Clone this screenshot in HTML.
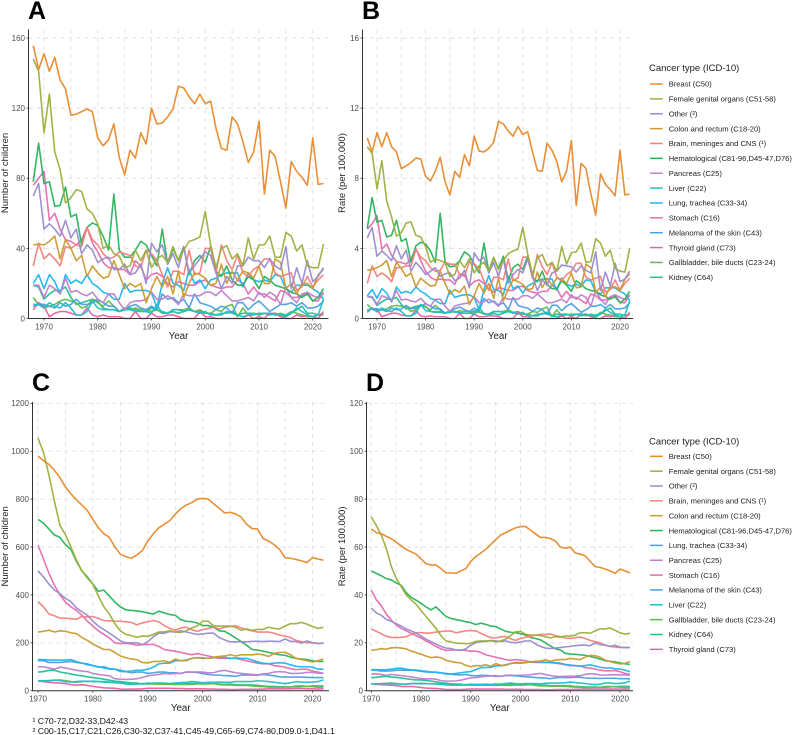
<!DOCTYPE html>
<html lang="en">
<head>
<meta charset="utf-8">
<title>Cancer trends in children</title>
<style>
html,body{margin:0;padding:0;background:#fff;width:793px;height:735px;overflow:hidden}
svg{display:block;font-family:"Liberation Sans",Arial,sans-serif}
</style>
</head>
<body>
<svg id="figure" xmlns="http://www.w3.org/2000/svg" width="793" height="735" viewBox="0 0 793 735"></svg>
<script>
const yearsAB = [1968,1969,1970,1971,1972,1973,1974,1975,1976,1977,1978,1979,1980,1981,1982,1983,1984,1985,1986,1987,1988,1989,1990,1991,1992,1993,1994,1995,1996,1997,1998,1999,2000,2001,2002,2003,2004,2005,2006,2007,2008,2009,2010,2011,2012,2013,2014,2015,2016,2017,2018,2019,2020,2021,2022];
const yearsCD = yearsAB.slice(2);
const gridYears = [1970,1975,1980,1985,1990,1995,2000,2005,2010,2015,2020];
const labelYears = [1970,1980,1990,2000,2010,2020];
const ticksA = [0,40,80,120,160];
const ticksB = [0,4,8,12,16];
const ticksC = [0,200,400,600,800,1000,1200];
const ticksD = [0,20,40,60,80,100,120];

const names = {
 breast:"Breast (C50)", female:"Female genital organs (C51-58)", other:"Other (²)", colon:"Colon and rectum (C18-20)",
 brain:"Brain, meninges and CNS (¹)", hemat:"Hematological (C81-96,D45-47,D76)", pancreas:"Pancreas (C25)", liver:"Liver (C22)",
 lung:"Lung, trachea (C33-34)", stomach:"Stomach (C16)", melanoma:"Melanoma of the skin (C43)", thyroid:"Thyroid gland (C73)",
 gallbladder:"Gallbladder, bile ducts (C23-24)", kidney:"Kidney (C64)"
};
const colors = {
 breast:"#E8892A", female:"#9CAF3B", other:"#9A8BCF", colon:"#C99A2E", brain:"#F57F7A", hemat:"#27B35A", pancreas:"#BE7FCB",
 liver:"#1FC0C9", lung:"#1FB4EE", stomach:"#E56BB0", melanoma:"#4A9FE0", thyroid:"#EC5EA5", gallbladder:"#5DBE4C", kidney:"#1FBF94"
};
const orderAB = ["breast","female","other","colon","brain","hemat","pancreas","liver","lung","stomach","melanoma","thyroid","gallbladder","kidney"];
const orderCD = ["breast","female","other","brain","colon","hemat","lung","pancreas","stomach","melanoma","liver","gallbladder","kidney","thyroid"];

/* Panel A: number of children, 1968-2022 */
const aBreast = [155.6,142,151,141,149,136,131,116,116.5,118, 119.5,118,103,98.5,102,111,92,82,96,91.5, 106,99.5,120,111,111.5,115,119.5,132.5,131.5,126.5, 122.5,128,122.5,124,108.5,97,96,115,111,101, 89,95,112.5,71,96,92.5,78,63,89.5,84, 80.5,76,103,76.5,77];
const aFemale = [148,141,106,128,95,85,66,69,73.5,72.5, 62.5,60,54,40,42,37,35.5,29,30,39, 33,39,29,34,36,32,41,33,39,44, 45,46.5,61,42,29,40,41.5,34,37,30, 46,34,42,42,47,35,35,49,47,38.5, 42,30,29,29,42.5];
const aOther = [70,77,51,54,51,47,56,46,51,37, 42,39,32,34,35,28,28,31,25,26, 31,20,43,38,42,31,37,29,41,26, 30,34,38,36,26,17,24,20,30,30, 35,33,33,29,34,30,28,41,17,29, 20,33,21,24,29];
const aColon = [42,42.5,42,44,47,34,45,40,33,36, 24,30,26,23,24,33,25,17,20,18, 20,9,17,24,18,24,14,27,12,20, 26,25,23,19,20,31,20,27,22,27, 26,23,30,20,20,34,32,17,20,14, 20,20,17,25,28];
const aBrain = [30,43,34,37,34,30,41,40,42,41, 52,45,42,37,34,35,38,37,36,30, 29,39,37,33,25,18,27,27,25,39, 25,26,40,40,26,42,33,28,36,26, 24,28,30,34,34,26,24,25,26,16, 18,24,18,22,25];
const aHemat = [78,100,77,78,64,64.5,75,58,59.5,42, 52,54.5,53,47,39,71,39,35,35,39, 44,42,36,30,51,31,40,33,41,25, 33,36,32,41,27,24,30,22,19,19, 24,22,17,24,22,19,18,17,15,14, 12,14,10,12,17];
const aPancreas = [19,19,12,19,17,14,23,15,16,14, 13,15,11,9,14,14,9,5,9,10, 10,11,15,11,11,13,11,8,14,13, 13,13,15,15,13,16,13,10,10,11, 12,10,15,12,15,13,8,18,12,9, 14,15,13,12,14];
const aLiver = [8,8,6,9,7,6,9,6,2,2, 4,10,6,5,5,5,4,5,5,4, 4,4,3,8,3,3,5,5,4,5, 4,3,4,2,2,3,3,4,2,1, 2,2,3,3,3,2,2,2,3,6, 4,2,1,2,11];
const aLung = [20,25,17,25,21,14,25,20,22,20, 25,20,18,15,14,11,11,20,15,16, 16,16,15,6,20,29,20,19,16,28, 20,22,17,22,23,25,26,26,26,18, 26,22,21,22,21,25,24,17,15,19, 19,19,17,15,11];
const aStomach = [76,80,84,56,60,51,45,44,42,45, 52,43,38,32,29,29,28,28,25,33, 30,22,25,26,24,20,18,21,20,19, 19,21,22,19,18,17,18,18,22,20, 14,18,14,14,12,10,16,15,12,12, 13,15,10,10,15];
const aMelanoma = [7,8,8,7,6,9,7,8,11,8, 8,9,11,9,7,7,4,5,7,8, 6,5,7,5,14,11,12,9,11,6, 14,9,8,7,5,7,6,3,9,9, 5,8,10,7,4,6,8,8,9,7, 9,6,6,7,10];
const aThyroid = [5,9,7,1,3,4,4,3,2,2, 6,2,1,2,1,1,1,0,0,4, 0,0,3,1,1,2,2,1,0,0, 0,4,1,1,0,0,0,0,0,0, 2,0,1,0,3,3,1,0,0,2, 1,2,1,0,4];
const aGallbladder = [12,8,6,7,8,10,11,10,9,6, 7,11,9,7,10,7,4,6,5,6, 5,5,4,5,3,3,5,5,5,6, 4,5,3,3,5,4,7,8,1,6, 2,3,2,3,3,2,3,2,4,3, 2,1,1,2,2];
const aKidney = [19,18,11,14,16,16,18,12,8,9, 10,11,10,6,5,5,4,5,6,5, 4,4,6,5,4,3,4,3,4,5, 4,4,3,3,2,2,4,3,2,3, 3,3,2,3,2,3,2,1,3,5, 7,3,3,2,3];

/* Panel B: rate per 100,000, 1968-2022 */
const bBreast = [10.3,9.5,10.6,9.8,10.6,9.8,9.5,8.55,8.7,8.9, 9.15,9.1,8.1,7.85,8.4,9.2,7.8,7.05,8.4,8.05, 9.35,8.7,10.4,9.55,9.5,9.7,10.05,11.25,11.1,10.7, 10.4,10.95,10.5,10.65,9.5,8.45,8.4,10,9.6,8.95, 7.8,8.4,10.15,6.45,8.85,8.55,7.1,5.9,8.25,7.65, 7.35,7,9.6,7.05,7.1];
const bFemale = [9.8,9.4,7.4,9,6.7,5.8,4.7,4.9,5.45,5.5, 4.75,4.65,4.1,3.2,3.4,3.3,3.2,2.4,2.5,3.3, 2.9,3.4,2.6,3,3.2,2.7,3.5,2.8,3.3,3.7, 3.85,3.95,5.2,3.7,2.5,3.45,3.65,3,3.2,2.7, 4.1,3.1,3.75,3.8,4.3,3.2,3.25,4.55,4.3,3.55, 3.9,2.85,2.7,2.65,4];
const bOther = [4.6,5.2,3.55,3.85,3.6,3.3,4.15,3.4,3.9,2.7, 3.2,2.9,2.5,2.7,2.9,2.4,2.55,2.6,2.15,2.3, 2.75,1.75,3.75,3.3,3.5,2.6,3.2,2.4,3.4,2, 2.5,2.8,2.6,3.4,2.4,1.6,2.2,1.9,2.6,2.7, 3.05,3,2.95,2.65,3,2.75,2.6,3.8,1.6,2.65, 1.85,3.15,2.1,2.25,2.7];
const bColon = [2.75,2.8,2.9,3.05,3.3,2.4,3.2,2.85,2.4,2.6, 1.8,2.3,2.05,1.85,1.9,2.7,2,1.4,1.65,1.5, 1.85,0.8,1.3,2,1.45,2,1.15,2.3,1,1.7, 2.2,2.1,1.95,1.65,1.7,2.65,1.75,2.3,1.9,2.3, 2.25,2,2.6,1.75,1.8,3.1,2.9,1.5,1.8,1.25, 1.8,1.8,1.6,2.25,2.55];
const bBrain = [2,3,2.4,2.6,2.4,2.1,2.9,2.9,3,3, 3.95,3.5,3.3,2.9,2.7,2.75,3.2,3.1,3.1,2.5, 2.4,3.25,3.1,2.85,2.15,1.6,2.35,2.35,2.2,3.4, 2.2,2.3,3.5,3.5,2.3,3.65,2.95,2.5,3.2,2.35, 2.15,2.5,2.7,3.15,3.15,2.35,2.2,2.3,2.4,1.5, 1.65,2.2,1.6,2,2.3];
const bHemat = [5.15,6.9,5.5,5.6,4.65,4.75,5.6,4.4,4.55,3.2, 4.15,4.35,4.25,3.85,3.2,6,3.25,2.95,3,3.3, 3.8,3.6,3.1,2.6,4.3,2.65,3.45,2.85,3.55,2.2, 2.9,3.1,2.8,3.55,2.35,2.1,2.7,1.95,1.7,1.7, 2.15,1.9,1.55,2.15,1.95,1.7,1.6,1.55,1.35,1.25, 1.1,1.25,0.9,1.1,1.55];
const bPancreas = [1.25,1.25,0.8,1.3,1.2,1,1.6,1.05,1.1,1, 0.95,1.15,0.85,0.7,1.1,1.1,0.7,0.4,0.7,0.8, 0.85,0.9,1.25,0.9,0.95,1.1,0.95,0.7,1.2,1.1, 1.1,1.1,1.3,1.3,1.15,1.4,1.15,0.9,0.9,1, 1.1,0.9,1.35,1.1,1.35,1.2,0.7,1.6,1.1,0.8, 1.25,1.35,1.2,1.1,1.3];
const bLiver = [0.5,0.55,0.4,0.6,0.45,0.4,0.6,0.4,0.15,0.15, 0.3,0.8,0.45,0.4,0.4,0.4,0.3,0.4,0.4,0.3, 0.3,0.3,0.25,0.65,0.25,0.25,0.4,0.4,0.35,0.4, 0.35,0.25,0.35,0.15,0.15,0.25,0.25,0.35,0.15,0.1, 0.2,0.2,0.25,0.25,0.25,0.2,0.2,0.2,0.25,0.55, 0.35,0.2,0.1,0.2,1];
const bLung = [1.3,1.65,1.15,1.7,1.45,0.95,1.8,1.45,1.55,1.45, 1.8,1.55,1.4,1.15,1.05,0.85,0.85,1.6,1.2,1.3, 1.35,1.35,1.2,0.5,1.65,2.45,1.65,1.6,1.35,2.4, 1.7,1.85,1.45,1.85,2,2.15,2.25,2.25,2.25,1.6, 2.3,1.95,1.85,1.95,1.85,2.2,2.15,1.5,1.4,1.75, 1.75,1.75,1.55,1.4,1];
const bStomach = [5.1,5.4,5.85,3.95,4.25,3.6,3.25,3.2,3.1,3.4, 4,3.3,2.7,2.35,2.2,2.25,2.2,2.2,1.95,2.55, 2.5,1.85,2.1,2.2,2,1.7,1.5,1.75,1.7,1.6, 1.6,1.8,1.85,1.6,1.5,1.45,1.55,1.55,1.9,1.7, 1.2,1.55,1.2,1.2,1.05,0.85,1.4,1.3,1.05,1.05, 1.2,1.35,0.9,0.9,1.35];
const bMelanoma = [0.45,0.55,0.55,0.5,0.4,0.6,0.5,0.55,0.75,0.55, 0.6,0.7,0.85,0.7,0.55,0.55,0.3,0.4,0.55,0.65, 0.5,0.4,0.6,0.4,1.15,0.9,1,0.75,0.9,0.5, 1.2,0.75,0.65,0.6,0.4,0.6,0.5,0.25,0.75,0.75, 0.45,0.7,0.85,0.6,0.35,0.5,0.7,0.7,0.8,0.6, 0.8,0.55,0.55,0.6,0.9];
const bThyroid = [0.35,0.6,0.5,0.1,0.2,0.3,0.3,0.2,0.15,0.15, 0.45,0.15,0.1,0.15,0.1,0.1,0.1,0,0,0.3, 0,0,0.25,0.1,0.1,0.15,0.15,0.1,0,0, 0,0.35,0.1,0.1,0,0,0,0,0,0, 0.15,0,0.1,0,0.25,0.25,0.1,0,0,0.15, 0.1,0.2,0.1,0,0.35];
const bGallbladder = [0.8,0.55,0.4,0.5,0.55,0.7,0.75,0.7,0.65,0.4, 0.5,0.8,0.65,0.5,0.75,0.5,0.3,0.45,0.35,0.45, 0.4,0.4,0.3,0.4,0.25,0.25,0.4,0.4,0.4,0.5, 0.35,0.4,0.25,0.25,0.4,0.35,0.55,0.65,0.1,0.5, 0.15,0.25,0.15,0.25,0.25,0.15,0.25,0.15,0.35,0.25, 0.2,0.1,0.1,0.2,0.2];
const bKidney = [1.25,1.2,0.75,0.95,1.1,1.1,1.2,0.8,0.55,0.6, 0.7,0.75,0.7,0.4,0.35,0.35,0.3,0.35,0.4,0.35, 0.3,0.3,0.45,0.35,0.3,0.2,0.3,0.2,0.3,0.4, 0.3,0.3,0.25,0.25,0.15,0.15,0.3,0.25,0.15,0.25, 0.25,0.25,0.15,0.25,0.15,0.25,0.15,0.1,0.25,0.45, 0.6,0.25,0.25,0.15,0.25];

/* Panel C: number of children, smoothed, 1970-2022 */
const cBreast = [980,960,945,920,890,850,822,797,775,752, 715,680,655,640,600,570,560,553,567,585, 625,655,680,695,710,737,760,775,785,800, 803,800,780,762,742,745,738,725,695,677, 675,635,625,610,590,555,553,548,542,535, 556,550,545];
const cFemale = [1055,995,900,790,690,651,600,545,500,470, 445,395,350,320,280,250,235,230,223,228, 227,235,245,246,250,245,243,250,262,270, 290,290,270,270,270,270,265,252,258,252, 256,256,265,260,258,270,280,280,285,278, 268,260,265];
const cOther = [500,475,445,420,405,385,372,345,330,315, 290,270,255,240,225,208,200,200,200,192, 205,225,240,240,247,245,250,245,240,235, 237,240,240,222,212,204,204,204,204,206, 206,205,207,206,205,216,206,205,198,208, 200,197,199];
const cBrain = [372,350,320,313,303,303,300,298,310,308, 310,302,293,292,290,290,288,285,275,283, 288,293,288,272,260,253,262,265,255,248, 255,260,265,258,265,268,272,262,255,250, 245,245,245,240,232,228,222,210,205,200, 200,198,198];
const cColon = [245,248,253,245,250,248,242,238,222,210, 195,183,172,172,160,145,138,132,130,118, 116,122,122,125,118,132,125,125,135,138, 138,135,140,143,145,150,145,150,150,150, 153,150,143,155,160,160,150,135,130,125, 120,125,133];
const cHemat = [715,700,675,650,640,610,590,540,500,475, 445,415,420,395,370,350,338,335,333,330, 325,320,332,325,318,315,297,290,288,283, 272,272,265,250,248,235,220,205,190,172, 170,165,160,155,150,148,140,135,132,130, 125,122,122];
const cLung = [130,130,128,128,128,128,130,122,115,112, 105,100,95,90,90,85,80,82,85,85, 90,98,112,115,115,125,125,128,135,138, 135,135,138,140,140,135,137,135,135,128, 120,115,113,115,117,115,108,102,100,100, 98,90,90];
const cPancreas = [100,100,95,90,98,95,90,85,82,80, 72,68,65,62,50,48,47,48,50,55, 62,65,68,72,70,72,72,78,78,78, 78,75,75,82,85,80,75,72,70,68, 66,70,72,78,80,78,72,72,73,77, 76,73,73];
const cStomach = [608,550,490,440,400,370,350,335,315,290, 270,250,235,220,200,197,198,195,190,192, 193,193,185,172,168,165,160,155,150,155, 150,145,140,135,135,135,135,130,125,120, 115,112,112,105,102,98,92,88,90,90, 82,78,72];
const cMelanoma = [125,125,118,118,118,120,122,118,115,108, 105,98,100,92,90,80,80,75,78,78, 72,75,78,78,75,75,72,78,78,76, 72,68,65,65,63,62,60,65,65,65, 65,68,65,62,58,57,57,57,57,56, 55,55,55];
const cLiver = [42,42,42,44,42,38,36,38,40,38, 40,38,38,36,35,32,28,27,28,30, 30,32,32,32,30,32,34,35,38,36, 33,35,35,36,35,35,38,38,38,38, 42,40,38,35,32,30,33,38,36,35, 36,38,45];
const cGallbladder = [42,40,42,44,45,42,38,35,38,40, 38,38,36,35,33,32,30,30,28,28, 28,28,27,27,27,26,27,26,26,28, 28,28,30,25,24,24,22,22,22,20, 18,17,15,14,14,15,15,20,20,18, 17,14,15];
const cKidney = [78,80,85,85,78,74,70,65,62,58, 55,52,48,44,40,38,35,33,32,28, 32,30,30,28,28,28,28,30,30,30, 32,30,30,28,26,27,25,24,24,24, 22,20,18,18,17,16,16,16,17,18, 20,20,20];
const cThyroid = [40,38,35,33,32,30,25,23,25,22, 18,15,12,11,10,7,6,7,7,8, 10,10,10,10,10,9,9,8,8,8, 8,7,7,6,6,5,5,6,6,6, 6,7,8,8,8,8,8,9,9,8, 8,7,8];

/* Panel D: rate per 100,000, smoothed, 1970-2022 */
const dBreast = [67.5,66,65.5,64.5,63.5,62,60.5,59,58,57, 55,53,52.5,52.5,51,49.2,49.2,49,50,51, 54,56,57.5,59,61,63,65,66,67,68, 68.5,68.6,67,65.5,64,64,63.5,62.5,60,59.5, 60,57.5,57,56.3,54,51.8,51.5,50.8,50,49, 50.8,50,49.2];
const dFemale = [72.5,69,65,59.5,52,47,43.5,40,38,36, 33.5,31,28.5,26,23,20.8,20.4,19.8,19.8,19.6, 19.8,20.6,20.8,20.8,20.8,20.4,20.8,21.5,23,24.6, 24.8,23.6,23.2,23.2,23,22.6,22,22.6,22.3,22.8, 22.8,23.2,24.2,24.2,24,25,25.8,25.8,26.2,25.2, 24.2,23.6,24];
const dOther = [34.5,32.5,31.5,29.8,29,28,27,25.8,25,24, 22.8,21.5,20.5,19.5,18.5,17.8,17.6,17,16.8,17.5, 19,20,20.5,20.5,21,20.8,20.5,20.8,20.2,20, 20.3,20.8,20.8,19.5,18.5,17.8,17.6,17.8,18,18.3, 18.5,18.8,19,19,18.8,20,19.2,19,18.5,19, 18.2,18,18];
const dBrain = [25.8,24.8,23.8,22.7,22.3,22.2,22.3,22.5,23.5,24.2, 24.3,24,24.1,24.5,24.7,24.9,24.9,24.2,24.6,25, 25.1,25,24,23,22.2,22,22.5,22.6,21.7,21, 21.8,22.3,22.8,23.2,23.5,23.5,23.7,23,22.6,22, 21.8,22.2,22.4,21.8,21,20.5,20,19,18.5,18.2, 18,18,18];
const dColon = [16.9,17.1,17.6,17.3,17.9,18,17.8,17.5,16.5,15.9, 15.2,14.5,13.8,14.1,13.8,12.7,12.2,11.8,11.6,10.6, 10,10.5,10.4,10.8,10.2,11.3,10.6,10.6,11.4,11.8, 11.7,11.8,12,12.2,12.4,12.9,12.3,12.8,13,13, 13.5,13.2,13,14,14.8,14.6,14,12.8,12.2,11.6, 11.2,11.4,12.2];
const dHemat = [50,49,48,46.8,46.3,45,44,41,39,37.8, 36.5,35,33.7,35,33,31,30.2,29.7,29.3,28.8, 28.4,27.6,28.2,27.7,27,26.8,25.8,24.8,24.4,24.2, 23.8,23.2,22.3,21.8,21.2,20,18.7,17.5,17,15.6, 15.3,15.2,15,14.8,14.3,13.8,13.2,12.5,12.3,12, 11.6,11.2,11];
const dLung = [8.8,8.8,8.7,8.8,9,9.3,9.4,9,8.7,8.6, 8.3,8.1,7.8,7.8,7.5,7.2,7,7.2,7.5,7.8, 8,8.8,9.6,9.7,9.7,10.4,10.4,10.8,11.3,11.6, 11.5,11.7,12,12.2,12.1,11.8,11.8,11.7,11.5,11, 10.7,10.5,10.3,10.5,10.8,10.3,9.8,9.5,9.5,9.2, 9,8.6,7.9];
const dPancreas = [7,7,6.8,6.4,6.8,6.6,6.3,6,5.8,5.4, 5,4.9,5,4.8,4.2,4,4,4.1,4.4,4.9, 5.3,5.5,5.8,6,6.2,6,6,6.4,6.5,6.4, 6.5,6.5,6.7,7,7.2,6.8,6.3,6,5.9,6, 6,6.1,6.3,6.8,7.1,7,6.5,6.5,6.6,6.7, 6.6,6.6,6.5];
const dStomach = [42,38,35.5,32,29.5,27.5,26,25,24,23, 22,20.8,19.7,18.5,17.5,16.8,17,17,17,16.8, 16.5,16.5,16,15,14.5,14,13.5,13,12.7,13, 12.8,12.5,12,11.8,11.8,11.8,11.7,11.5,11.2,10.8, 10.5,10.4,10.3,9.6,9.4,9,8.6,8.3,8.3,8.4, 7.9,7.2,6.8];
const dMelanoma = [8.6,8.5,8.2,8.2,8.3,8.5,8.6,8.5,8.6,8.4, 8.1,7.8,7.8,7.6,7.4,7,6.9,6.7,6.6,6.8, 6.3,6.2,6.4,6.4,6.2,6.2,6,6.3,6.3,6.2, 6,5.8,5.7,5.5,5.4,5.3,5,5.4,5.6,5.5, 5.5,5.7,5.6,5.3,5.2,5.2,5.1,5.2,5.2,5.2, 5,5,4.9];
const dLiver = [2.9,2.9,2.9,3,3,2.8,2.7,2.8,3,2.9, 3,2.9,2.9,2.8,2.7,2.5,2.3,2.3,2.4,2.5, 2.6,2.6,2.6,2.7,2.6,2.8,2.8,3,3.2,3, 2.8,3,3,3,2.9,3.1,3.2,3.2,3.2,3.3, 3.6,3.4,3.2,3,2.7,2.5,2.7,3.2,3.2,3, 3.1,3.3,4];
const dGallbladder = [2.9,2.8,3,3.1,3.2,3,2.8,2.6,3,3.1, 3,3,2.9,2.8,2.7,2.6,2.5,2.4,2.3,2.4, 2.3,2.3,2.3,2.3,2.3,2.2,2.3,2.3,2.2,2.4, 2.3,2.4,2.6,2.2,2,2,1.9,1.9,1.9,1.8, 1.6,1.5,1.4,1.3,1.3,1.4,1.4,1.8,1.8,1.6, 1.5,1.3,1.4];
const dKidney = [5.4,5.6,5.9,6,5.7,5.6,5.3,5,4.7,4.5, 4.5,4.3,4,3.7,3.3,3.1,2.9,2.8,2.7,2.4, 2.6,2.5,2.5,2.4,2.4,2.4,2.4,2.5,2.5,2.6, 2.7,2.6,2.5,2.4,2.2,2.3,2.1,2.1,2.1,2.1, 2,1.8,1.7,1.6,1.5,1.5,1.4,1.4,1.6,1.7, 1.8,1.8,1.8];
const dThyroid = [2.9,2.6,2.5,2.4,2.3,2.1,1.8,1.7,1.8,1.6, 1.3,1.1,1,0.9,0.8,0.5,0.5,0.5,0.5,0.6, 0.7,0.7,0.7,0.7,0.7,0.7,0.7,0.6,0.6,0.6, 0.6,0.5,0.5,0.5,0.5,0.4,0.4,0.5,0.5,0.5, 0.5,0.6,0.6,0.7,0.7,0.7,0.7,0.7,0.7,0.7, 0.7,0.6,0.7];

const NS = "http://www.w3.org/2000/svg";
const figure = document.getElementById("figure");

function makeEl(parent, tag, attrs, name, text) {
  const el = document.createElementNS(NS, tag);
  for (const k in attrs) el.setAttribute(k, attrs[k]);
  
  
  if (text !== undefined) el.textContent = text;
  parent.appendChild(el);
  return el;
}

function drawPanel(p) {
  const g = makeEl(figure, "g", {}, "panel-" + p.letter.toLowerCase());
  const xScale = v => p.left + p.xOffset + (v - 1970) * p.xStep;
  const yScale = v => p.bottom - (v / p.yMax) * (p.bottom - p.topTick);
  makeEl(g, "text", {x:p.left - 0.5, y:p.labelY, "font-size":25, "font-weight":"bold", fill:"#000"}, "panel-label", p.letter);

  gridYears.forEach(yr => {
    makeEl(g, "line", {x1:xScale(yr), x2:xScale(yr), y1:p.axisTop, y2:p.bottom, stroke:"#dedede", "stroke-width":0.9, "stroke-dasharray":"4 4"}, "vertical-gridline");
  });
  p.yTicks.forEach(v => {
    makeEl(g, "line", {x1:p.left, x2:p.right, y1:yScale(v), y2:yScale(v), stroke:"#dedede", "stroke-width":0.9, "stroke-dasharray":"4 4"}, "horizontal-gridline");
  });

  const drawOrder = p.order.slice().reverse();
  drawOrder.forEach(key => {
    const values = p.series[key];
    const pts = values.map((v, i) => xScale(p.years[i]).toFixed(2) + "," + yScale(v).toFixed(2)).join(" ");
    makeEl(g, "polyline", {points:pts, fill:"none", stroke:colors[key], "stroke-width":1.6, "stroke-linejoin":"round", opacity:0.95}, "series-line-" + key);
  });

  makeEl(g, "line", {x1:p.left, x2:p.left, y1:p.axisTop, y2:p.bottom + 0.5, stroke:"#333", "stroke-width":1}, "y-axis-line");
  makeEl(g, "line", {x1:p.left, x2:p.right, y1:p.bottom, y2:p.bottom, stroke:"#333", "stroke-width":1}, "x-axis-line");

  p.yTicks.forEach(v => {
    makeEl(g, "line", {x1:p.left - 2, x2:p.left, y1:yScale(v), y2:yScale(v), stroke:"#333", "stroke-width":0.8}, "y-tick-mark");
    makeEl(g, "text", {x:p.left - 3.5, y:yScale(v) + 2.9, "font-size":8, fill:"#4d4d4d", "text-anchor":"end"}, "y-tick-label", String(v));
  });
  labelYears.forEach(yr => {
    makeEl(g, "line", {x1:xScale(yr), x2:xScale(yr), y1:p.bottom, y2:p.bottom + 2, stroke:"#333", "stroke-width":0.8}, "x-tick-mark");
    makeEl(g, "text", {x:xScale(yr), y:p.bottom + 11, "font-size":8, fill:"#4d4d4d", "text-anchor":"middle"}, "x-tick-label", String(yr));
  });
  makeEl(g, "text", {x:(p.left + p.right) / 2, y:p.bottom + 20.5, "font-size":9.8, fill:"#222", "text-anchor":"middle"}, "x-axis-title", "Year");
  const ty = (p.axisTop + p.bottom) / 2 + p.titleShift;
  makeEl(g, "text", {x:p.titleX, y:ty, "font-size":9.5, fill:"#222", "text-anchor":"middle", transform:"rotate(-90 " + p.titleX + " " + ty + ")"}, "y-axis-title", p.yTitle);
}

function drawLegend(order, titleY, firstY, step, name) {
  const g = makeEl(figure, "g", {}, name);
  makeEl(g, "text", {x:649, y:titleY, "font-size":9.5, fill:"#222"}, "legend-title", "Cancer type (ICD-10)");
  order.forEach((key, i) => {
    const y = firstY + i * step;
    const entry = makeEl(g, "g", {}, "legend-entry-" + key);
    makeEl(entry, "line", {x1:650, x2:662.7, y1:y, y2:y, stroke:colors[key], "stroke-width":1.5}, "legend-swatch");
    makeEl(entry, "text", {x:668.7, y:y + 2.7, "font-size":7.6, fill:"#222"}, "legend-label", names[key]);
  });
}

drawPanel({letter:"A", left:28.5, right:328.5, bottom:318.5, topTick:38, axisTop:29.5, labelY:19, xOffset:15.5, xStep:5.375, yMax:160,
  yTicks:ticksA, years:yearsAB, order:orderAB, titleX:8, titleShift:-1, yTitle:"Number of children",
  series:{breast:aBreast,female:aFemale,other:aOther,colon:aColon,brain:aBrain,hemat:aHemat,pancreas:aPancreas,liver:aLiver,lung:aLung,stomach:aStomach,melanoma:aMelanoma,thyroid:aThyroid,gallbladder:aGallbladder,kidney:aKidney}});
drawPanel({letter:"B", left:362.5, right:633, bottom:318.5, topTick:38, axisTop:29.5, labelY:19, xOffset:14.5, xStep:4.86, yMax:16,
  yTicks:ticksB, years:yearsAB, order:orderAB, titleX:345, titleShift:-1, yTitle:"Rate (per 100.000)",
  series:{breast:bBreast,female:bFemale,other:bOther,colon:bColon,brain:bBrain,hemat:bHemat,pancreas:bPancreas,liver:bLiver,lung:bLung,stomach:bStomach,melanoma:bMelanoma,thyroid:bThyroid,gallbladder:bGallbladder,kidney:bKidney}});
drawPanel({letter:"C", left:32.5, right:329, bottom:690.7, topTick:403.3, axisTop:402, labelY:391, xOffset:5.5, xStep:5.49, yMax:1200,
  yTicks:ticksC, years:yearsCD, order:orderCD, titleX:8, titleShift:0, yTitle:"Number of children",
  series:{breast:cBreast,female:cFemale,other:cOther,brain:cBrain,colon:cColon,hemat:cHemat,lung:cLung,pancreas:cPancreas,stomach:cStomach,melanoma:cMelanoma,liver:cLiver,gallbladder:cGallbladder,kidney:cKidney,thyroid:cThyroid}});
drawPanel({letter:"D", left:366.5, right:633, bottom:690.7, topTick:403.3, axisTop:402, labelY:391, xOffset:4.8, xStep:4.975, yMax:120,
  yTicks:ticksD, years:yearsCD, order:orderCD, titleX:345, titleShift:0, yTitle:"Rate (per 100.000)",
  series:{breast:dBreast,female:dFemale,other:dOther,brain:dBrain,colon:dColon,hemat:dHemat,lung:dLung,pancreas:dPancreas,stomach:dStomach,melanoma:dMelanoma,liver:dLiver,gallbladder:dGallbladder,kidney:dKidney,thyroid:dThyroid}});

drawLegend(orderAB, 71, 84, 14.87, "legend-top");
drawLegend(orderCD, 444.5, 456.3, 14.85, "legend-bottom");

makeEl(figure, "text", {x:32.5, y:724, "font-size":8.7, fill:"#111"}, "footnote-1", "¹ C70-72,D32-33,D42-43");
makeEl(figure, "text", {x:32.5, y:734, "font-size":8.7, fill:"#111"}, "footnote-2", "² C00-15,C17,C21,C26,C30-32,C37-41,C45-49,C65-69,C74-80,D09.0-1,D41.1");
</script>
</body>
</html>
